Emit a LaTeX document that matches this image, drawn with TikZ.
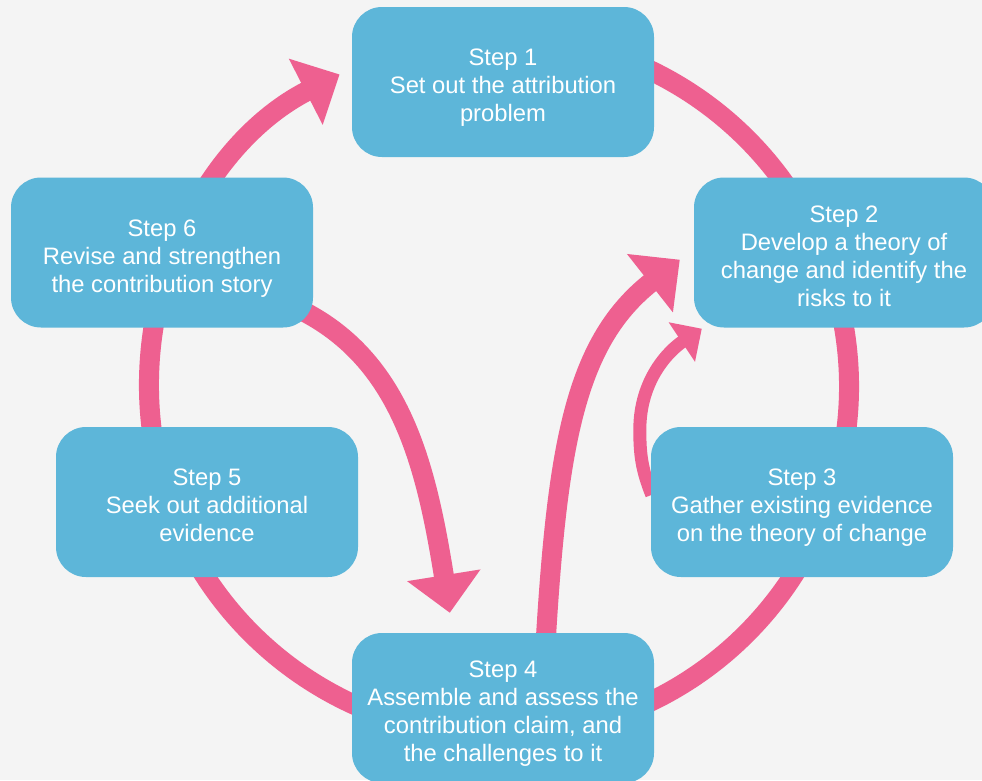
\documentclass[tikz,border=0pt]{standalone}
\usepackage{fontspec}
\setmainfont{Liberation Sans}
\usepackage{tikz}
\usepackage{xcolor}
\usetikzlibrary{arrows.meta}
\definecolor{stepblue}{HTML}{5DB6D9}
\definecolor{cyclepink}{HTML}{EE6090}
\definecolor{pagegrey}{HTML}{F4F4F4}
\pgfdeclarelayer{back}
\pgfsetlayers{back,main}
\newcommand{\steptext}[1]{\raisebox{-6pt}[\height][\depth]{\begin{tabular}{@{}c@{}}#1\end{tabular}}}
\tikzset{
    step-box/.style = {fill=stepblue, text=white, rectangle, rounded corners=30pt, minimum width=302pt, minimum height=150pt, inner sep=0pt, font=\fontsize{23.8}{28}\selectfont},
    cycle-ring/.style = {draw=cyclepink, line width=20pt, -{Triangle[length=38pt, width=72pt]}},
    big-arrow/.style = {draw=cyclepink, line width=20pt, -{Triangle[length=38pt, width=72pt]}},
    small-arrow/.style = {draw=cyclepink, line width=13pt, -{Triangle[length=24pt, width=46pt]}},
}

\begin{document}
\begin{tikzpicture}[x=1pt, y=-1pt]
\useasboundingbox (0,0) rectangle (982,780);
\begin{pgfonlayer}{back}
\fill[pagegrey] (0,0) rectangle (982,780);
\end{pgfonlayer}

\node[step-box] (step1) at (503,82) {\steptext{Step 1\\Set out the attribution\\problem}};
\node[step-box, minimum width=300pt] (step2) at (844,252.5) {\steptext{Step 2\\Develop a theory of\\change and identify the\\risks to it}};
\node[step-box] (step3) at (802,502) {\steptext{Step 3\\Gather existing evidence\\on the theory of change}};
\node[step-box] (step4) at (503,708) {\steptext{Step 4\\Assemble and assess the\\contribution claim, and\\the challenges to it}};
\node[step-box] (step5) at (207,502) {\steptext{Step 5\\Seek out additional\\evidence}};
\node[step-box] (step6) at (162,252.5) {\steptext{Step 6\\Revise and strengthen\\the contribution story}};

\coordinate (ring-c) at (499,386);

\begin{pgfonlayer}{back}
\draw[cycle-ring] ([shift={(262:350)}]ring-c) arc[start angle=262, end angle=602.9, radius=350];
\draw[big-arrow] ([shift={(-13,-18)}]step6.south east) .. controls +(100,50) and +(-24,-150) .. ([shift={(98,-20)}]step4.north west);
\draw[big-arrow] ([shift={(194,7)}]step4.north west) .. controls +(12,-200) and +(-103,81) .. ([shift={(-14,-68)}]step2.south west);
\draw[small-arrow] ([shift={(1,68)}]step3.north west) .. controls +(-10,-25) and +(0,25) .. ([shift={(-11,3)}]step3.north west)
    .. controls +(0,-50) and +(-33,22) .. ([shift={(8,1)}]step2.south west);
\end{pgfonlayer}
\end{tikzpicture}
\end{document}
